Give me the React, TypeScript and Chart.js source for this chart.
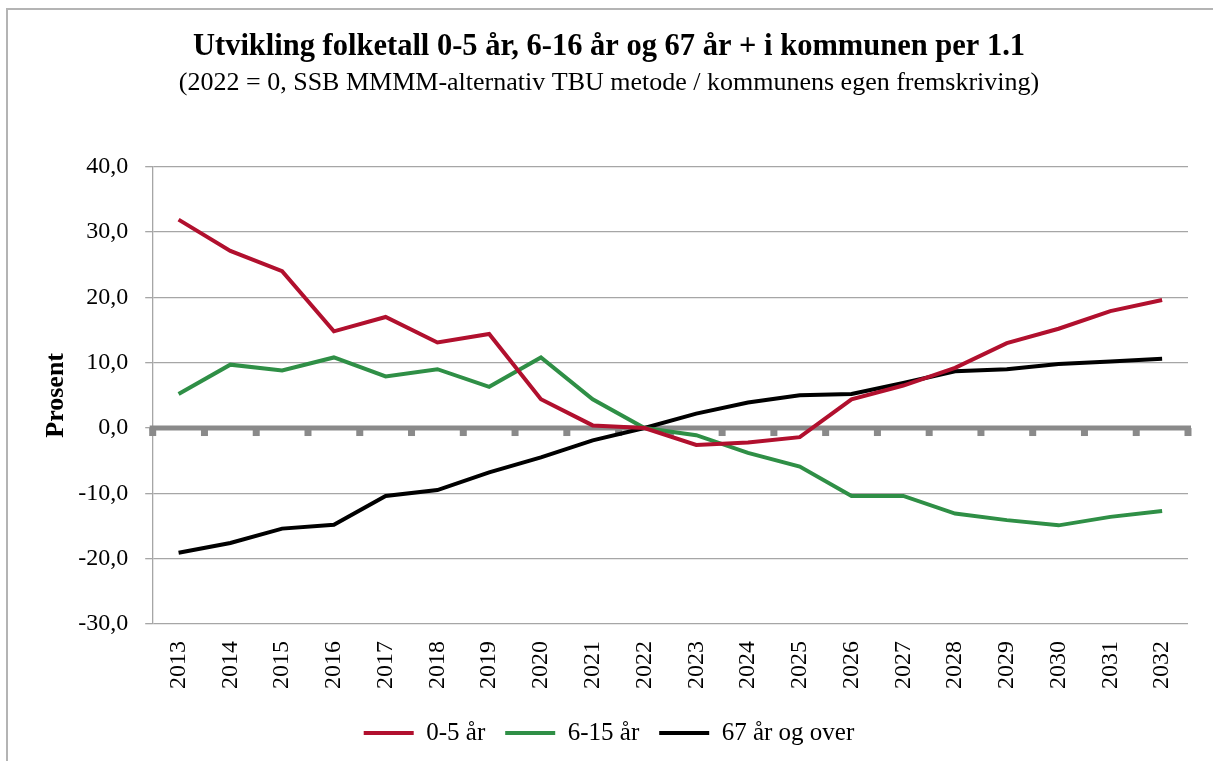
import React, { useEffect, useRef } from "react";
import { Chart, registerables } from "chart.js";

Chart.register(...registerables);

const categories = [
  "2013", "2014", "2015", "2016", "2017", "2018", "2019", "2020", "2021", "2022",
  "2023", "2024", "2025", "2026", "2027", "2028", "2029", "2030", "2031", "2032",
];

const age0to5 = [31.9, 27.1, 24.0, 14.8, 17.0, 13.1, 14.4, 4.4, 0.4, 0.0, -2.6, -2.2, -1.4, 4.4, 6.5, 9.2, 13.0, 15.2, 17.9, 19.6];
const age6to15 = [5.2, 9.7, 8.8, 10.8, 7.9, 9.0, 6.3, 10.8, 4.4, 0.0, -1.1, -3.8, -5.9, -10.4, -10.4, -13.1, -14.1, -14.9, -13.6, -12.7];
const age67plus = [-19.1, -17.6, -15.4, -14.8, -10.4, -9.5, -6.8, -4.5, -1.9, 0.0, 2.2, 3.9, 5.0, 5.2, 6.9, 8.7, 9.0, 9.8, 10.2, 10.6];

const seriesNames = ["0-5 år", "6-15 år", "67 år og over"];
const titleText = "Utvikling folketall 0-5 år, 6-16 år og 67 år + i kommunen per 1.1";
const subtitleText = "(2022 = 0, SSB MMMM-alternativ TBU metode / kommunens egen fremskriving)";
const yAxisTitle = "Prosent";
const yMin = -30;
const yMax = 40;
const yStep = 10;

const FONT = "'Liberation Serif', 'Times New Roman', serif";
const GRID = "#a6a6a6";

const zeroLinePlugin = {
  id: "zeroLine",
  beforeDatasetsDraw(chart: any) {
    const { ctx, chartArea, scales } = chart;
    const y = scales.y.getPixelForValue(0);
    const xs = scales.x;
    const n = categories.length;
    const step = n > 1 ? xs.getPixelForValue(1) - xs.getPixelForValue(0) : chartArea.right - chartArea.left;
    ctx.save();
    ctx.strokeStyle = "#8a8a8a";
    ctx.lineWidth = 5;
    ctx.beginPath();
    ctx.moveTo(chartArea.left - 3, y);
    ctx.lineTo(chartArea.right + 3, y);
    ctx.stroke();
    ctx.fillStyle = "#8a8a8a";
    for (let i = 0; i <= n; i++) {
      const bx = xs.getPixelForValue(0) - step / 2 + i * step;
      ctx.fillRect(bx - 3.5, y, 7, 8);
    }
    ctx.restore();
  },
};

export default function App() {
  const canvasRef = useRef<HTMLCanvasElement | null>(null);

  useEffect(() => {
    if (!canvasRef.current) return;
    const colors = ["#b1102e", "#2f8f46", "#000000"];
    const data = [age0to5, age6to15, age67plus];
    const chart = new Chart(canvasRef.current, {
      type: "line",
      data: {
        labels: categories,
        datasets: data.map((d, i) => ({
          label: seriesNames[i],
          data: d,
          borderColor: colors[i],
          backgroundColor: colors[i],
          borderWidth: 4,
          pointRadius: 0,
          tension: 0,
          fill: false,
        })),
      },
      options: {
        animation: false,
        responsive: false,
        maintainAspectRatio: false,
        layout: { padding: { left: 30, right: 25, top: 0, bottom: 5.5 } },
        plugins: {
          title: {
            display: true,
            text: titleText,
            color: "#000",
            font: { family: FONT, size: 30.5, weight: "bold" },
            padding: { top: 28.7, bottom: 0 },
          },
          subtitle: {
            display: true,
            text: subtitleText,
            color: "#000",
            font: { family: FONT, size: 26 },
            padding: { top: 2.1, bottom: 68.1 },
          },
          legend: {
            position: "bottom",
            labels: {
              boxWidth: 50,
              boxHeight: 4,
              padding: 20,
              color: "#000",
              font: { family: FONT, size: 25 },
              generateLabels(chart: any) {
                const items = Chart.defaults.plugins.legend.labels.generateLabels(chart);
                return items.map((it: any) => ({ ...it, lineWidth: 0, fillStyle: it.strokeStyle }));
              },
            },
          },
          tooltip: { enabled: false },
        },
        scales: {
          x: {
            type: "category",
            offset: true,
            grid: { display: false, drawTicks: false },
            border: { display: false },
            ticks: {
              autoSkip: false,
              minRotation: 90,
              maxRotation: 90,
              padding: 17,
              color: "#000",
              font: { family: FONT, size: 24 },
            },
            afterFit(scale: any) {
              scale.height = 76.5;
            },
          },
          y: {
            min: yMin,
            max: yMax,
            grid: { color: GRID, lineWidth: 1.3, tickLength: 7.5, tickColor: GRID },
            border: { display: true, color: GRID, width: 1.3 },
            ticks: {
              stepSize: yStep,
              padding: 17,
              color: "#000",
              font: { family: FONT, size: 24 },
              callback: (v: any) => Number(v).toFixed(1).replace(".", ","),
            },
            title: {
              display: true,
              text: yAxisTitle,
              color: "#000",
              font: { family: FONT, size: 26, weight: "bold" },
              padding: { top: 10.4, bottom: 0 },
            },
            afterFit(scale: any) {
              scale.width = 122.7;
            },
          },
        },
      },
      plugins: [zeroLinePlugin],
    });
    return () => chart.destroy();
  }, []);

  return (
    <div style={{ position: "fixed", left: 0, top: 0, width: 1213, height: 761, background: "#fff", overflow: "hidden" }}>
      <div
        style={{
          position: "absolute",
          left: 6,
          top: 8,
          width: 1400,
          height: 1000,
          borderLeft: "2px solid #b4b4b4",
          borderTop: "2px solid #b4b4b4",
        }}
      />
      <canvas ref={canvasRef} width={1213} height={761} style={{ position: "absolute", left: 0, top: 0 }} />
    </div>
  );
}
